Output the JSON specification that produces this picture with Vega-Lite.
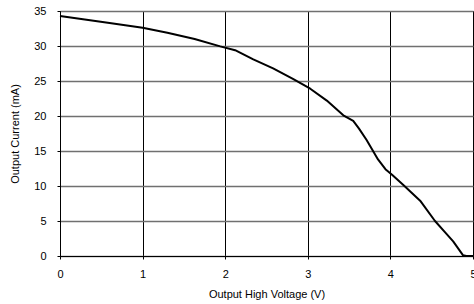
{
  "$schema": "https://vega.github.io/schema/vega-lite/v6.json",
  "autosize": "none",
  "width": 413,
  "height": 245,
  "padding": {"left": 60, "top": 11, "right": 1, "bottom": 48},
  "background": "white",
  "config": {
    "view": {"stroke": "black", "strokeWidth": 1},
    "font": "Liberation Sans",
    "axis": {"labelFont": "Liberation Sans", "titleFont": "Liberation Sans", "labelColor": "black", "titleColor": "black", "titleFontWeight": "normal", "domainColor": "black", "tickColor": "black"}
  },
  "data": {
    "values": [
      {"v": 0.0, "i": 34.3},
      {"v": 0.3, "i": 33.8},
      {"v": 0.6, "i": 33.3},
      {"v": 1.0, "i": 32.6},
      {"v": 1.3, "i": 31.9},
      {"v": 1.63, "i": 31.0},
      {"v": 1.94, "i": 29.95},
      {"v": 2.12, "i": 29.4},
      {"v": 2.34, "i": 28.1},
      {"v": 2.58, "i": 26.8},
      {"v": 2.82, "i": 25.3},
      {"v": 3.03, "i": 23.9},
      {"v": 3.23, "i": 22.2},
      {"v": 3.43, "i": 20.1},
      {"v": 3.55, "i": 19.3},
      {"v": 3.62, "i": 18.2},
      {"v": 3.71, "i": 16.6},
      {"v": 3.85, "i": 13.8},
      {"v": 3.94, "i": 12.4},
      {"v": 4.02, "i": 11.6},
      {"v": 4.16, "i": 10.1},
      {"v": 4.36, "i": 7.9},
      {"v": 4.54, "i": 5.0},
      {"v": 4.66, "i": 3.4},
      {"v": 4.76, "i": 2.1},
      {"v": 4.82, "i": 1.1},
      {"v": 4.88, "i": 0.1},
      {"v": 4.92, "i": 0.0},
      {"v": 5.0, "i": 0.0}
    ]
  },
  "mark": {"type": "line", "color": "black", "strokeWidth": 2, "interpolate": "linear", "strokeJoin": "round"},
  "encoding": {
    "x": {
      "field": "v", "type": "quantitative",
      "scale": {"domain": [0, 5], "nice": false},
      "axis": {"title": "Output High Voltage (V)", "values": [0, 1, 2, 3, 4, 5], "format": "d", "grid": true, "gridColor": "black", "gridOpacity": 1, "gridWidth": 1, "tickSize": 3, "labelPadding": 9, "labelFontSize": 11, "titleFontSize": 11, "titlePadding": 9, "labelFlush": false}
    },
    "y": {
      "field": "i", "type": "quantitative",
      "scale": {"domain": [0, 35], "nice": false},
      "axis": {"title": "Output Current (mA)", "values": [0, 5, 10, 15, 20, 25, 30, 35], "grid": true, "gridColor": "#707070", "gridOpacity": 1, "gridWidth": 1.5, "tickSize": 3, "labelPadding": 11, "labelFontSize": 11, "titleFontSize": 11, "titlePadding": 13, "labelFlush": false}
    }
  }
}
